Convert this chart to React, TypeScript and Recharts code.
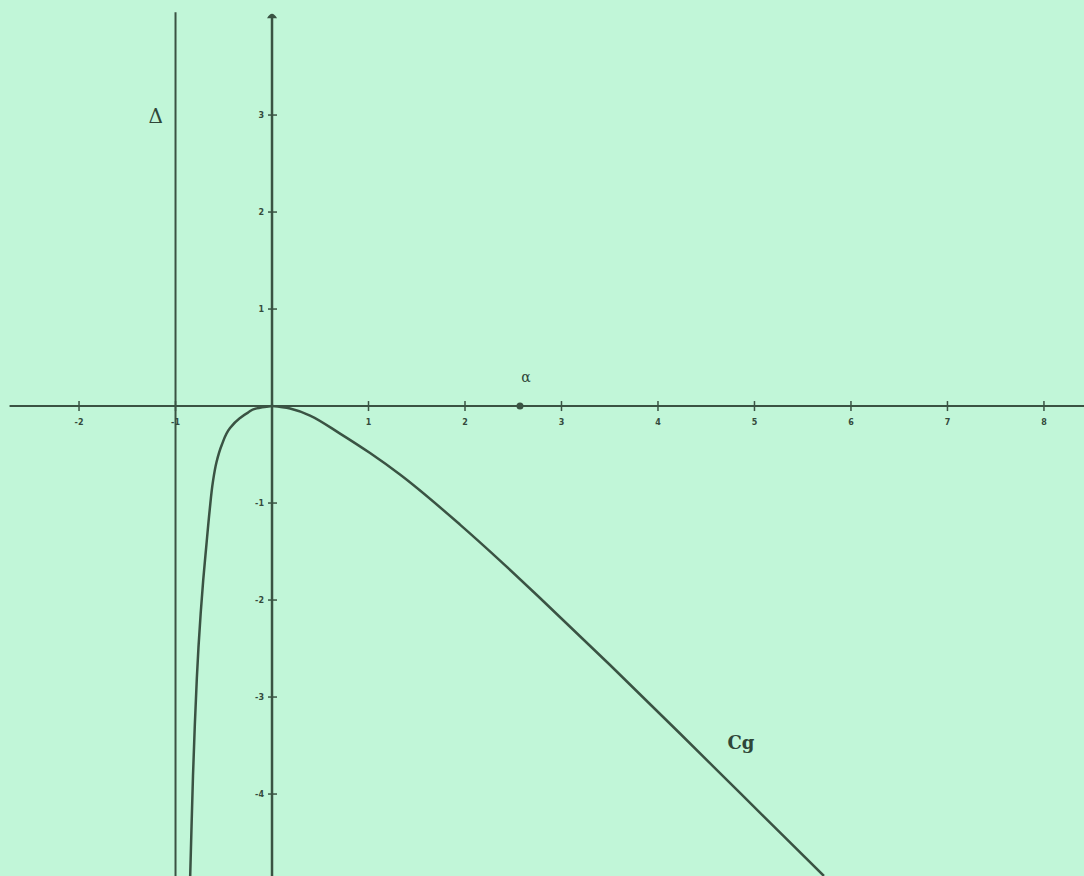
import React from 'react';
import { LineChart, Line, XAxis, YAxis, ReferenceLine, ReferenceDot } from 'recharts';

// values (one grid unit = one x / y unit)
// left branch, ordered by y (it climbs out of the asymptote x = -1)
const leftBranch = [
  { x: -0.848, y: -4.845 },
  { x: -0.835, y: -4.371 },
  { x: -0.819, y: -3.814 },
  { x: -0.8, y: -3.289 },
  { x: -0.779, y: -2.804 },
  { x: -0.762, y: -2.485 },
  { x: -0.739, y: -2.134 },
  { x: -0.713, y: -1.794 },
  { x: -0.682, y: -1.454 },
  { x: -0.646, y: -1.072 },
  { x: -0.613, y: -0.784 },
  { x: -0.575, y: -0.577 },
  { x: -0.521, y: -0.402 },
  { x: -0.435, y: -0.227 },
  { x: -0.332, y: -0.124 },
  { x: -0.249, y: -0.067 },
  { x: -0.159, y: -0.024 },
  { x: 0, y: 0 },
];

const rightBranch = [
  { x: 0, y: 0 },
  { x: 0.187, y: -0.026 },
  { x: 0.394, y: -0.098 },
  { x: 0.705, y: -0.284 },
  { x: 1.016, y: -0.485 },
  { x: 1.326, y: -0.706 },
  { x: 1.948, y: -1.222 },
  { x: 2.363, y: -1.593 },
  { x: 2.777, y: -1.979 },
  { x: 3.503, y: -2.67 },
  { x: 4.228, y: -3.376 },
  { x: 4.85, y: -3.989 },
  { x: 5.3, y: -4.432 },
  { x: 5.72, y: -4.845 },
];

const xTicks = [-2, -1, 1, 2, 3, 4, 5, 6, 7, 8];
const yTicks = [3, 2, 1, -1, -2, -3, -4];
const alpha = 2.57;
const asymptoteX = -1;

const X_DOMAIN: [number, number] = [-2.819, 8.415];
const Y_DOMAIN: [number, number] = [-4.845, 4.186];

const INK = '#3a5343';
const BG = '#c1f6d8';

const XTick = (props: any) => {
  const { cx, cy, payload } = props;
  return (
    <g>
      <line x1={cx} y1={cy - 5} x2={cx} y2={cy + 5} stroke={INK} strokeWidth={1.5} />
      <text x={cx} y={cy + 19} textAnchor="middle" fontSize={8} fontWeight="bold" fill="#344a3c" fontFamily="DejaVu Sans">
        {payload}
      </text>
    </g>
  );
};

const YTick = (props: any) => {
  const { cx, cy, payload } = props;
  return (
    <g>
      <line x1={cx - 4} y1={cy} x2={cx + 5} y2={cy} stroke={INK} strokeWidth={1.5} />
      <text x={cx - 8} y={cy + 3} textAnchor="end" fontSize={8} fontWeight="bold" fill="#344a3c" fontFamily="DejaVu Sans">
        {payload}
      </text>
    </g>
  );
};

const Arrow = (props: any) => {
  const { cx, cy } = props;
  return <path d={`M${cx - 5},${cy + 6} Q${cx},${cy - 3} ${cx + 5},${cy + 6} Z`} fill={INK} />;
};

const Alpha = (props: any) => {
  const { cx, cy } = props;
  return (
    <g>
      <circle cx={cx} cy={cy} r={3.5} fill={INK} />
      <text x={cx + 6} y={cy - 24} textAnchor="middle" fontSize={14} fill="#2f4638" fontFamily="DejaVu Serif">
        α
      </text>
    </g>
  );
};

export default function App() {
  return (
    <div style={{ position: 'absolute', left: 0, top: 0, width: 1084, height: 876, background: BG }}>
      <LineChart width={1084} height={876} margin={{ top: 0, right: 0, bottom: 0, left: 0 }}>
        <XAxis type="number" dataKey="x" domain={X_DOMAIN} allowDataOverflow hide />
        <YAxis type="number" domain={Y_DOMAIN} allowDataOverflow hide width={0} />

        {/* axes through the origin */}
        <ReferenceLine
          segment={[{ x: -2.72, y: 0 }, { x: 8.415, y: 0 }]}
          stroke={INK}
          strokeWidth={2}
        />
        <ReferenceLine
          segment={[{ x: 0, y: 4.0 }, { x: 0, y: -4.845 }]}
          stroke={INK}
          strokeWidth={2.5}
        />
        <ReferenceDot x={0} y={4.06} r={0} shape={<Arrow />} />

        {/* asymptote */}
        <ReferenceLine
          segment={[{ x: asymptoteX, y: 4.06 }, { x: asymptoteX, y: -4.845 }]}
          stroke={INK}
          strokeWidth={2}
          label={{ value: 'Δ', position: 'insideTopLeft', dx: -32, dy: 92, fontSize: 20, fill: '#2f4638', fontFamily: 'DejaVu Serif' }}
        />

        {xTicks.map((t) => (
          <ReferenceDot key={`xt${t}`} x={t} y={0} r={0} shape={(p: any) => <XTick {...p} payload={t} />} />
        ))}
        {yTicks.map((t) => (
          <ReferenceDot key={`yt${t}`} x={0} y={t} r={0} shape={(p: any) => <YTick {...p} payload={t} />} />
        ))}

        <ReferenceDot x={alpha} y={0} r={0} shape={<Alpha />} />

        <Line
          data={leftBranch}
          dataKey="y"
          type="monotoneY"
          stroke={INK}
          strokeWidth={2.5}
          dot={false}
          activeDot={false}
          isAnimationActive={false}
        />
        <Line
          data={rightBranch}
          dataKey="y"
          type="monotoneX"
          stroke={INK}
          strokeWidth={2.5}
          dot={false}
          activeDot={false}
          isAnimationActive={false}
        />

        <ReferenceDot
          x={4.72}
          y={-3.5}
          r={0}
          shape={(p: any) => (
            <text x={p.cx} y={p.cy + 3} fontSize={18} fontWeight="bold" fill="#2f4638" fontFamily="DejaVu Serif">
              Cg
            </text>
          )}
        />
      </LineChart>
    </div>
  );
}
